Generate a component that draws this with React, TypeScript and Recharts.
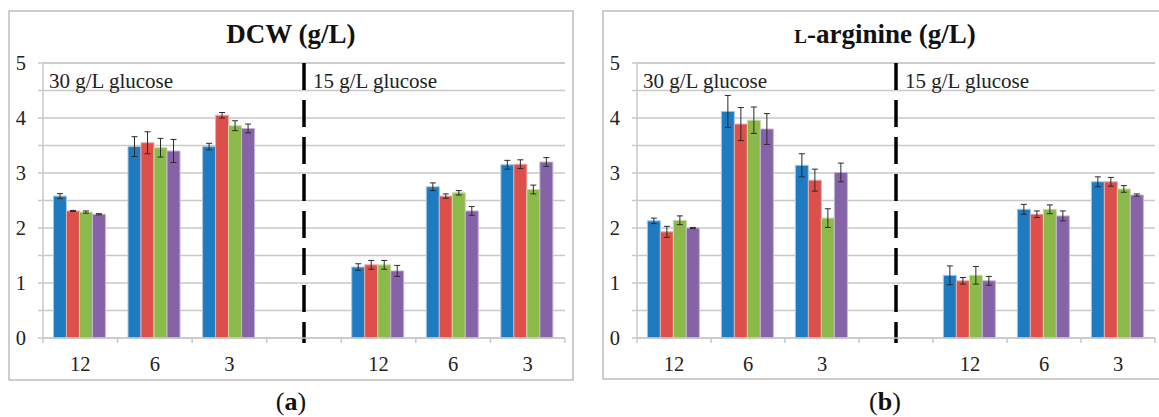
import React from "react";
import { Bar, BarChart, CartesianGrid, ErrorBar, ReferenceLine, XAxis, YAxis } from "recharts";

// x categories: culture condition (h), the empty slot holds the glucose divider
const categories = ["12", "6", "3", "", "12", "6", "3"];
const yTicks = [0, 0.5, 1, 1.5, 2, 2.5, 3, 3.5, 4, 4.5, 5];
const leftGroupLabel = "30 g/L glucose";
const rightGroupLabel = "15 g/L glucose";

const barColors = ["#1f7bbf", "#dc4f4b", "#8bba4a", "#8663a7"];
const barEdges = ["#a6c8e8", "#eeaaa8", "#c8dfa6", "#c6b3d9"];

// DCW (g/L)
const dcwBlue = [2.58, 3.48, 3.48, null, 1.29, 2.75, 3.15];
const dcwRed = [2.31, 3.55, 4.05, null, 1.33, 2.58, 3.16];
const dcwGreen = [2.29, 3.46, 3.86, null, 1.33, 2.64, 2.7];
const dcwPurple = [2.25, 3.4, 3.81, null, 1.22, 2.31, 3.2];
const dcwBlueErr = [0.045, 0.18, 0.06, null, 0.06, 0.07, 0.08];
const dcwRedErr = [0.01, 0.2, 0.05, null, 0.08, 0.04, 0.08];
const dcwGreenErr = [0.02, 0.17, 0.09, null, 0.08, 0.04, 0.08];
const dcwPurpleErr = [0.01, 0.21, 0.08, null, 0.1, 0.08, 0.08];

// L-arginine (g/L)
const argBlue = [2.13, 4.12, 3.14, null, 1.14, 2.34, 2.84];
const argRed = [1.93, 3.89, 2.87, null, 1.04, 2.25, 2.84];
const argGreen = [2.14, 3.96, 2.18, null, 1.14, 2.34, 2.71];
const argPurple = [2.0, 3.8, 3.01, null, 1.04, 2.22, 2.6];
const argBlueErr = [0.05, 0.29, 0.21, null, 0.17, 0.09, 0.09];
const argRedErr = [0.1, 0.3, 0.2, null, 0.06, 0.06, 0.08];
const argGreenErr = [0.08, 0.24, 0.17, null, 0.16, 0.08, 0.06];
const argPurpleErr = [0.01, 0.28, 0.17, null, 0.08, 0.09, 0.02];

const FONT = '"Liberation Serif", "DejaVu Serif", serif';
const GRID = "#c9c9c9";

type Num = number | null;

function buildRows(values: Num[][], errors: Num[][]) {
  return categories.map((label, i) => {
    const row: Record<string, string | Num> = { key: `c${i}`, label };
    values.forEach((v, s) => {
      row[`v${s}`] = v[i];
      row[`e${s}`] = errors[s][i];
    });
    return row;
  });
}

function CategoryTick(props: any) {
  const { x, y, payload, index, visibleTicksCount } = props;
  const half = payload?.offset ?? 37;
  const last = index === visibleTicksCount - 1;
  return (
    <g>
      <line x1={x - half} x2={x - half} y1={y} y2={y + 5} stroke={GRID} strokeWidth={1.5} />
      {last && <line x1={x + half} x2={x + half} y1={y} y2={y + 5} stroke={GRID} strokeWidth={1.5} />}
      <text x={x} y={y + 26} textAnchor="middle" dominantBaseline="central" fontFamily={FONT} fontSize={20.5} fill="#222">
        {categories[payload.index ?? index]}
      </text>
    </g>
  );
}

function ValueTick(props: any) {
  const { x, y, payload } = props;
  const v = payload.value as number;
  return (
    <g>
      <line x1={x - 5} x2={x} y1={y} y2={y} stroke={GRID} strokeWidth={1.5} />
      {Number.isInteger(v) && (
        <text x={x - 17} y={y} textAnchor="end" dominantBaseline="central" fontFamily={FONT} fontSize={20.5} fill="#222">
          {v}
        </text>
      )}
    </g>
  );
}

function GroupLabel({ viewBox, text, dx }: any) {
  if (!viewBox) return null;
  return (
    <text x={viewBox.x + dx} y={viewBox.y + 18} dominantBaseline="central" fontFamily={FONT} fontSize={21} fill="#222">
      {text}
    </text>
  );
}

function Panel({
  values,
  errors,
  width,
  marginLeft,
  marginRight,
}: {
  values: Num[][];
  errors: Num[][];
  width: number;
  marginLeft: number;
  marginRight: number;
}) {
  const data = buildRows(values, errors);
  return (
    <BarChart
      width={width}
      height={417}
      data={data}
      margin={{ top: 63, right: marginRight, bottom: 49, left: marginLeft }}
      barCategoryGap="14%"
      barGap={0}
    >
      <CartesianGrid vertical={false} stroke={GRID} strokeWidth={1.5} />
      <XAxis
        dataKey="key"
        height={30}
        tickSize={0}
        tickMargin={0}
        interval={0}
        axisLine={{ stroke: GRID, strokeWidth: 1.5 }}
        tickLine={false}
        tick={<CategoryTick />}
      />
      <YAxis
        width={35}
        domain={[0, 5]}
        ticks={yTicks}
        interval={0}
        tickSize={0}
        tickMargin={0}
        axisLine={{ stroke: GRID, strokeWidth: 1.5 }}
        tickLine={false}
        tick={<ValueTick />}
      />
      <ReferenceLine
        y={5}
        stroke={GRID}
        strokeWidth={1.5}
        label={{ content: (p: any) => <GroupLabel viewBox={p.viewBox} text={leftGroupLabel} dx={6} /> }}
      />
      {barColors.map((c, s) => (
        <Bar key={s} dataKey={`v${s}`} fill={c} stroke={barEdges[s]} strokeWidth={1} isAnimationActive={false}>
          <ErrorBar dataKey={`e${s}`} width={3} stroke="#2b2b2b" strokeWidth={1} isAnimationActive={false} />
        </Bar>
      ))}
      <ReferenceLine
        segment={[
          { x: "c3", y: 5 },
          { x: "c3", y: -0.09 },
        ]}
        ifOverflow="visible"
        stroke="#000"
        strokeWidth={3.5}
        strokeDasharray="27 10"
        label={{ content: (p: any) => <GroupLabel viewBox={p.viewBox} text={rightGroupLabel} dx={9} /> }}
      />
    </BarChart>
  );
}

export default function App() {
  return (
    <div
      style={{
        position: "absolute",
        left: 0,
        top: 0,
        width: 1159,
        height: 417,
        overflow: "hidden",
        background: "#fff",
        fontFamily: FONT,
      }}
    >
      <svg width={1159} height={417} style={{ position: "absolute", left: 0, top: 0 }}>
        <rect x={9} y={11} width={564} height={369} fill="none" stroke="#bdbdbd" strokeWidth={1.5} />
        <rect x={603} y={11} width={564} height={368} fill="none" stroke="#bdbdbd" strokeWidth={1.5} />
        <text x={291} y={43} textAnchor="middle" fontFamily={FONT} fontSize={27} fontWeight="bold" fill="#111">
          DCW (g/L)
        </text>
        <text x={885} y={43} textAnchor="middle" fontFamily={FONT} fontSize={27} fontWeight="bold" fill="#111">
          <tspan style={{ fontVariant: "small-caps" }}>l</tspan>-arginine (g/L)
        </text>
        <text x={291} y={410} textAnchor="middle" fontFamily={FONT} fontSize={26} fill="#111">
          (<tspan fontWeight="bold">a</tspan>)
        </text>
        <text x={885} y={410} textAnchor="middle" fontFamily={FONT} fontSize={26} fill="#111">
          (<tspan fontWeight="bold">b</tspan>)
        </text>
      </svg>
      <div style={{ position: "absolute", left: 0, top: 0 }}>
        <Panel
          values={[dcwBlue, dcwRed, dcwGreen, dcwPurple]}
          errors={[dcwBlueErr, dcwRedErr, dcwGreenErr, dcwPurpleErr]}
          width={580}
          marginLeft={8}
          marginRight={15}
        />
      </div>
      <div style={{ position: "absolute", left: 580, top: 0 }}>
        <Panel
          values={[argBlue, argRed, argGreen, argPurple]}
          errors={[argBlueErr, argRedErr, argGreenErr, argPurpleErr]}
          width={579}
          marginLeft={22}
          marginRight={4}
        />
      </div>
    </div>
  );
}
